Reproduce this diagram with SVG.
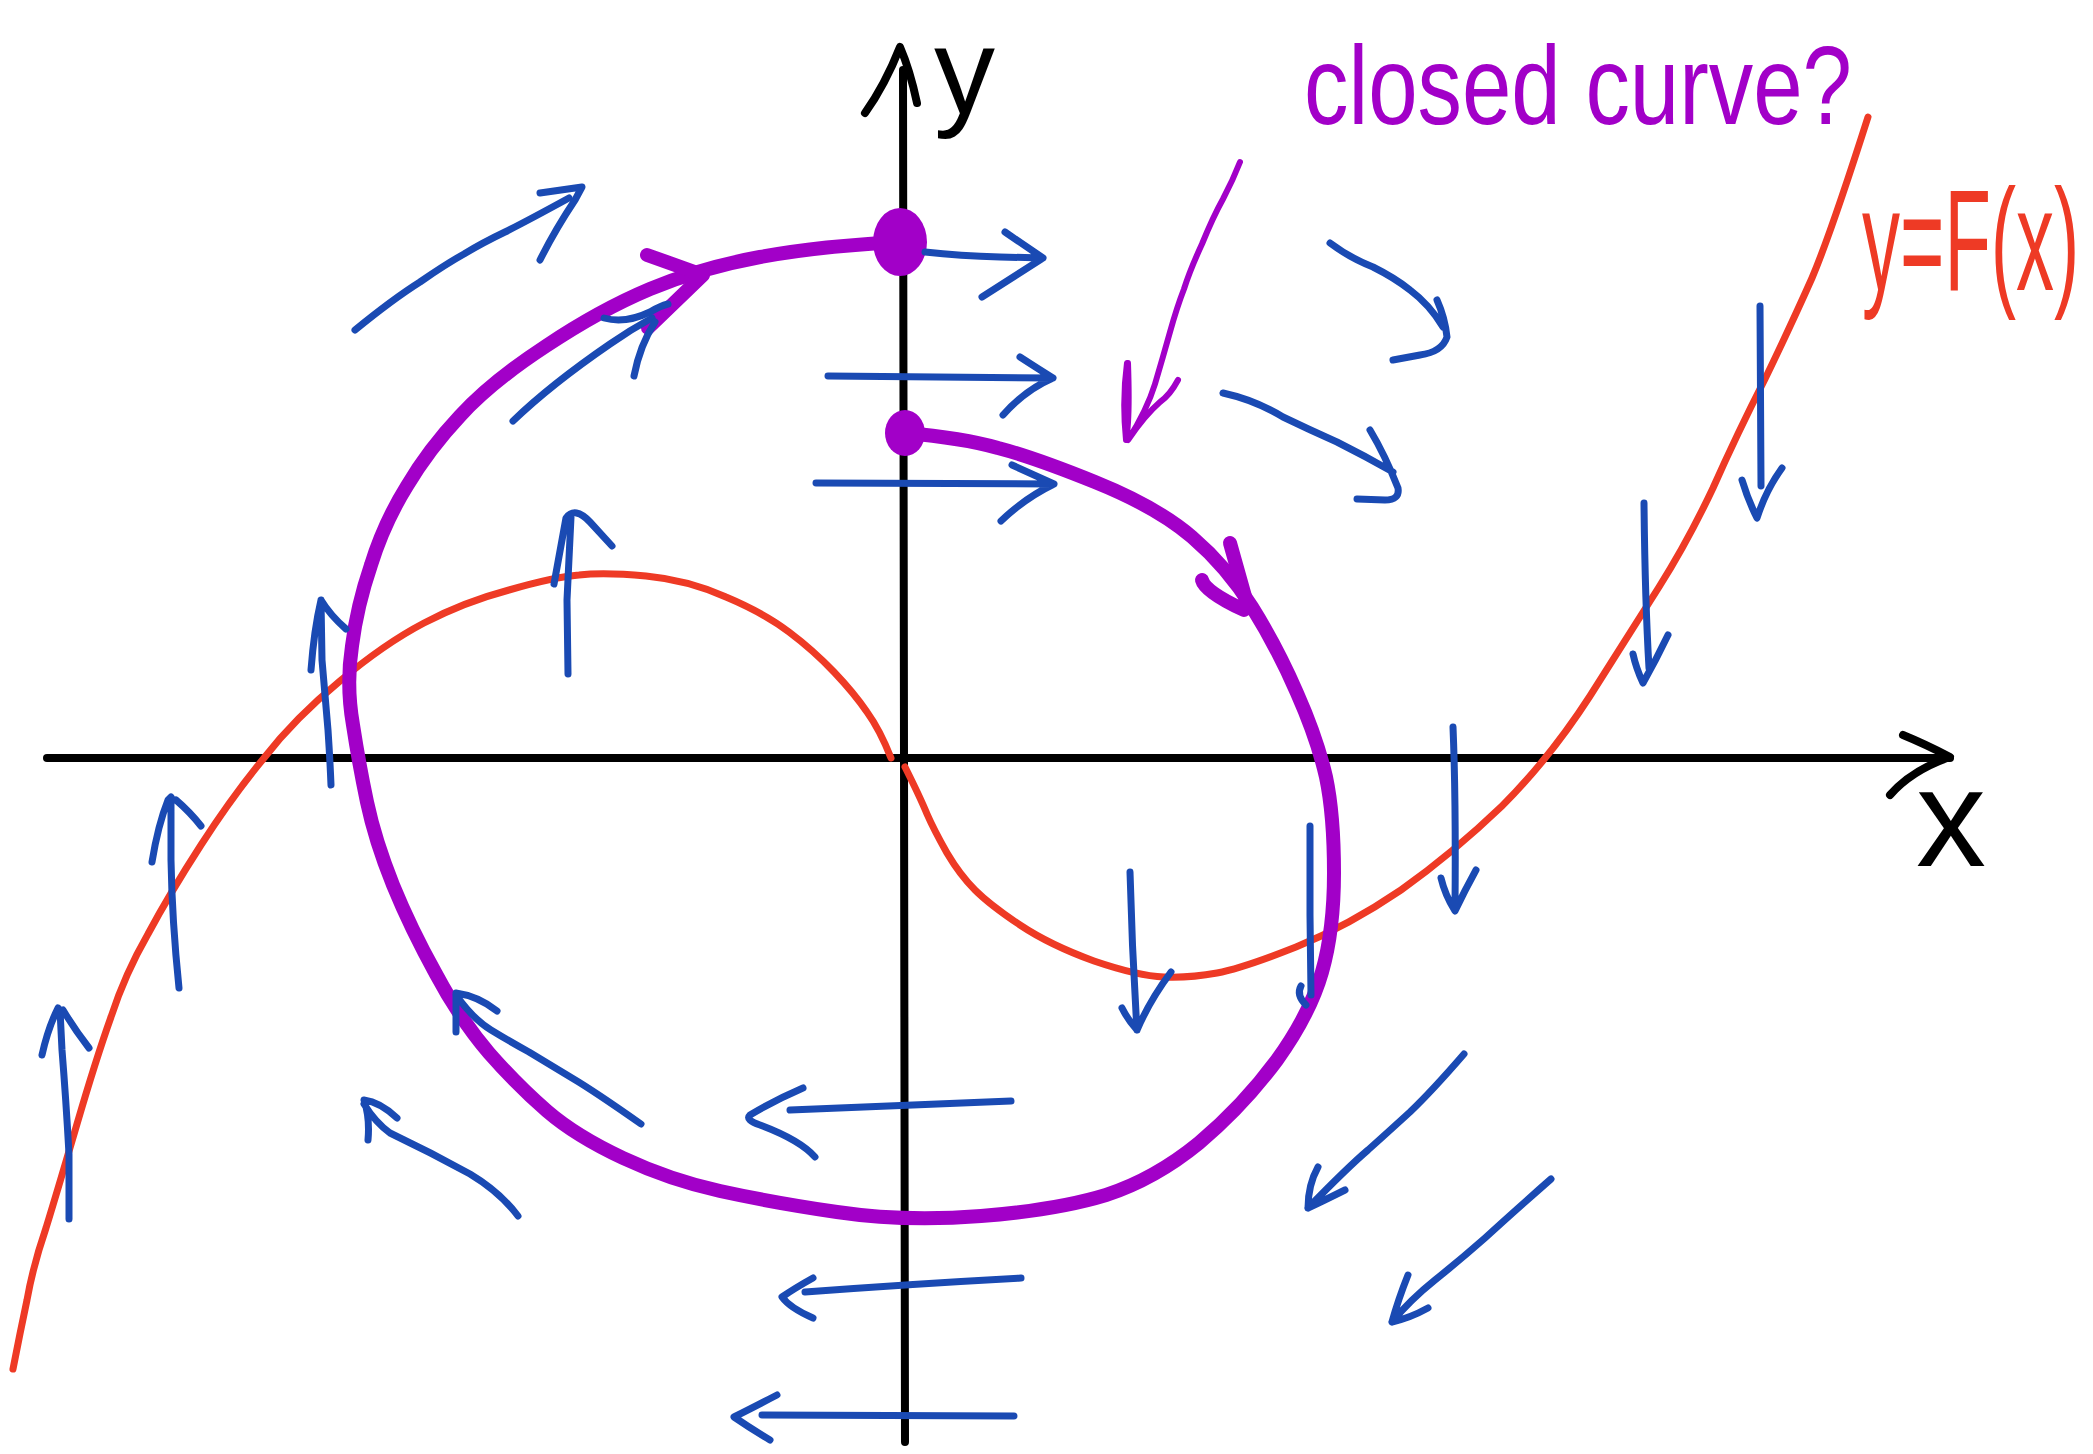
<svg xmlns="http://www.w3.org/2000/svg" width="2093" height="1454" viewBox="0 0 2093 1454">
<style>
.k{fill:none;stroke:#000;stroke-width:8;stroke-linecap:round;stroke-linejoin:round}
.b{fill:none;stroke:#1a4ab3;stroke-width:7;stroke-linecap:round;stroke-linejoin:round}
.r{fill:none;stroke:#ee3a25;stroke-width:7;stroke-linecap:round;stroke-linejoin:round}
.p{fill:none;stroke:#a200c8;stroke-width:14;stroke-linecap:round;stroke-linejoin:round}
.pt{fill:none;stroke:#a200c8;stroke-width:6;stroke-linecap:round;stroke-linejoin:round}
.t{font-family:"Liberation Sans","DejaVu Sans",sans-serif}
</style>
<rect width="2093" height="1454" fill="#fff"/>
<g id="axes">
<path class="k" d="M47,758 L1950,758"/>
<path class="k" d="M1903,735 Q1925,744 1950,757 Q1912,770 1890,795"/>
<path class="k" d="M905,1442 L903,70"/>
<path class="k" d="M865,113 Q885,85 900,47 Q910,70 917,103"/>
<text class="t" x="934" y="114" font-size="122" fill="#000">y</text>
<text class="t" x="1916" y="866" font-size="140" fill="#000">x</text>
</g>
<g id="curve-F">
<path class="r" d="M13,1369 Q20,1333 27,1300 Q33,1266 46,1228 Q58,1189 77,1124 Q96,1059 111,1017 Q125,974 148,934 Q170,893 201,845 Q232,797 264,758 Q295,718 340,681 Q384,644 424,623 Q464,602 509,590 Q554,577 579,575 Q604,572 646,576 Q688,580 726,597 Q764,613 789,632 Q813,650 834,672 Q854,693 867,712 Q880,730 891,758"/>
<path class="r" d="M905,767 Q920,797 927,814 Q934,830 947,853 Q960,875 975,890 Q990,905 1020,925 Q1050,945 1094,961 Q1138,976 1164,977 Q1190,978 1217,973 Q1243,968 1296,947 Q1348,926 1401,890 Q1453,853 1502,806 Q1550,758 1590,696 Q1630,633 1659,587 Q1688,541 1713,488 Q1737,434 1765,379 Q1792,323 1812,278 Q1831,233 1868,117"/>
<text class="t" font-size="80" fill="#ee3a25" transform="translate(1862,290) scale(0.95,1.8)">y=F(x)</text>
</g>
<g id="trajectory">
<path class="p" d="M900,242 Q820,246 760,257 Q700,268 650,289 Q600,310 546,346 Q491,382 460,416 Q429,449 407,486 Q384,523 371,565 Q357,606 352,646 Q346,685 353,725 Q359,764 367,802 Q375,840 393,885 Q411,929 436,974 Q460,1019 489,1053 Q518,1086 547,1111 Q576,1136 623,1158 Q670,1180 720,1191 Q770,1202 837,1212 Q904,1222 981,1216 Q1057,1210 1106,1195 Q1155,1179 1199,1143 Q1243,1106 1277,1060 Q1310,1014 1322,972 Q1334,930 1334,873 Q1334,815 1326,777 Q1317,738 1297,693 Q1277,647 1252,607 Q1227,567 1192,537 Q1157,507 1095,482 Q1033,457 998,448 Q963,438 905,433"/>
<ellipse cx="900" cy="242" rx="27" ry="34" fill="#a200c8"/>
<ellipse cx="905" cy="433" rx="20" ry="23" fill="#a200c8"/>
<path class="p" d="M647,255 L703,275 L648,328"/>
<path class="p" d="M1230,543 L1246,600 M1202,580 Q1205,592 1244,610"/>
<path class="pt" d="M1240,162 Q1233,180 1223,199 Q1213,217 1202,244 Q1190,270 1184,289 Q1177,307 1170,332 Q1163,357 1155,384 Q1147,410 1128,440 M1127,363 Q1122,400 1126,440 Q1130,420 1128,363 M1178,380 Q1170,395 1160,402 Q1145,415 1128,440"/>
<text class="t" x="1304" y="124" font-size="112" fill="#a200c8" textLength="548" lengthAdjust="spacingAndGlyphs">closed curve?</text>
</g>
<g id="field">
<path class="b" d="M355,330 Q393,299 420,282 Q446,264 464,254 Q482,243 505,232 Q527,221 569,198"/>
<path class="b" d="M540,193 L582,187 L575,200 Q555,230 540,260"/>
<path class="b" d="M513,421 C540,395 575,368 610,344 Q630,330 652,318"/>
<path class="b" d="M604,318 Q625,324 650,312 Q660,306 668,304 M655,322 Q640,345 634,376"/>
<path class="b" d="M828,376 L1053,378 M1020,357 Q1040,370 1053,378 Q1025,390 1003,415"/>
<path class="b" d="M925,252 Q960,256 1000,257 L1043,258 M1005,232 L1043,258 L982,297"/>
<path class="b" d="M816,483 L1054,484 M1012,465 L1054,484 Q1025,498 1001,521"/>
<path class="b" d="M331,785 Q330,760 328,730 L322,660 L321,600 M311,670 Q314,630 321,600 Q330,615 346,629"/>
<path class="b" d="M568,674 L567,600 L571,517 M554,584 L566,518 Q575,506 590,522 L612,546"/>
<path class="b" d="M179,988 Q172,920 171,860 L171,799 M152,862 Q158,825 168,800 L171,797 M176,800 Q190,812 201,826"/>
<path class="b" d="M69,1219 L69,1154 Q66,1100 62,1050 L60,1010 M42,1055 Q48,1028 58,1008 M63,1010 Q75,1030 89,1048"/>
<path class="b" d="M518,1216 Q500,1192 470,1174 Q430,1152 390,1133 Q375,1122 364,1104 M397,1118 Q380,1102 364,1100 Q370,1118 368,1140"/>
<path class="b" d="M641,1124 Q594,1091 572,1078 Q549,1064 529,1052 Q509,1041 491,1030 Q473,1019 456,995 M497,1011 Q478,996 456,993 L456,1032"/>
<path class="b" d="M1011,1101 Q900,1106 790,1110 M803,1088 Q775,1100 750,1115 Q745,1120 760,1125 Q800,1140 815,1157"/>
<path class="b" d="M1021,1278 Q910,1284 805,1292 M813,1278 Q795,1288 782,1297 Q790,1308 813,1318"/>
<path class="b" d="M1014,1416 L762,1415 M777,1395 Q752,1408 734,1417 Q750,1428 770,1440"/>
<path class="b" d="M1130,872 Q1132,950 1137,1030 M1122,1008 Q1128,1020 1137,1030 Q1150,1000 1171,972"/>
<path class="b" d="M1310,826 L1310,915 L1311,995 M1301,986 Q1296,995 1306,1005"/>
<path class="b" d="M1453,727 Q1456,800 1455,909 M1441,878 Q1445,895 1455,911 Q1465,890 1476,870"/>
<path class="b" d="M1644,503 Q1645,600 1649,668 M1633,654 Q1636,668 1643,683 Q1656,660 1668,635"/>
<path class="b" d="M1760,306 L1761,486 M1742,480 Q1748,500 1757,518 Q1766,490 1782,468"/>
<path class="b" d="M1464,1054 Q1432,1091 1410,1112 Q1387,1133 1368,1150 Q1348,1167 1308,1208 M1318,1167 Q1308,1185 1308,1208 Q1325,1200 1345,1190"/>
<path class="b" d="M1551,1179 Q1510,1215 1485,1238 Q1460,1260 1435,1280 Q1410,1300 1392,1322 M1408,1275 Q1398,1300 1392,1322 Q1410,1318 1428,1308"/>
<path class="b" d="M1330,243 Q1350,258 1373,267 Q1395,278 1410,290 Q1430,305 1443,327 M1437,300 Q1445,318 1447,337 Q1442,352 1420,355 L1393,360"/>
<path class="b" d="M1223,393 Q1255,400 1283,417 Q1310,430 1337,442 Q1365,456 1393,472 M1370,430 Q1385,455 1398,488 Q1400,500 1385,500 L1357,499"/>
</g>
</svg>
